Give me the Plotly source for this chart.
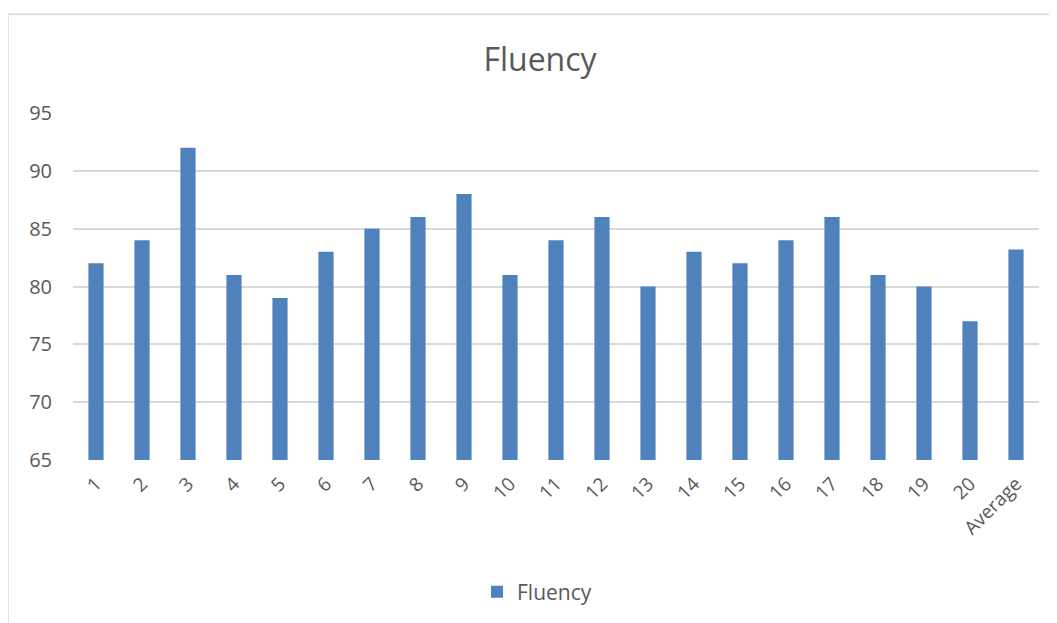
import plotly.graph_objects as go

categories = ["1", "2", "3", "4", "5", "6", "7", "8", "9", "10",
              "11", "12", "13", "14", "15", "16", "17", "18", "19", "20", "Average"]
fluency = [82, 84, 92, 81, 79, 83, 85, 86, 88, 81,
           84, 86, 80, 83, 82, 84, 86, 81, 80, 77, 83.2]
y_ticks = [65, 70, 75, 80, 85, 90, 95]

# page body has an 8px default margin; compensate so positions match the page
OFF = 8
W, H = 1057 - OFF, 623 - OFF
L, R, T, B = 73 - OFF, 18, 113 - OFF, 162
pw, ph = W - L - R, H - T - B

FONT = "'Open Sans', Lato, sans-serif"
GREY = "#595959"

fig = go.Figure()
fig.add_trace(go.Bar(
    x=categories, y=fluency, name="Fluency",
    marker=dict(color="#4F81BD", line=dict(width=0)),
    showlegend=True,
))

def px_x(p):  # page pixel -> paper x
    return (p - OFF - L) / pw

def px_y(p):  # page pixel -> paper y
    return (H - B - (p - OFF)) / ph

fig.update_layout(
    width=W, height=H,
    margin=dict(l=L, r=R, t=T, b=B),
    paper_bgcolor="white", plot_bgcolor="white",
    bargap=0.67,
    title=dict(text="Fluency", x=px_x(540), xanchor="center", xref="paper",
               y=1 - (60 - OFF) / H, yanchor="middle",
               font=dict(family=FONT, size=32, color=GREY)),
    font=dict(family=FONT, color=GREY),
    xaxis=dict(type="category", tickangle=-45, showgrid=False, showline=False,
               ticks="", tickfont=dict(size=19, color=GREY), ticklabelstandoff=8),
    yaxis=dict(range=[65, 95], tickvals=y_ticks, showgrid=True, gridcolor="#D9D9D9",
               gridwidth=1.5, zeroline=False, showline=False, ticks="",
               tickfont=dict(size=20, color=GREY), ticklabelstandoff=20),
    legend=dict(orientation="h", x=px_x(537), xanchor="center", y=px_y(592), yanchor="middle",
                font=dict(size=21, color=GREY), itemwidth=30),
    shapes=[dict(type="rect", xref="paper", yref="paper",
                 x0=px_x(8), x1=px_x(1080), y0=px_y(660), y1=px_y(14),
                 line=dict(color="#D9D9D9", width=1.5), fillcolor="rgba(0,0,0,0)",
                 layer="below")],
)

fig.write_html("out.html")
